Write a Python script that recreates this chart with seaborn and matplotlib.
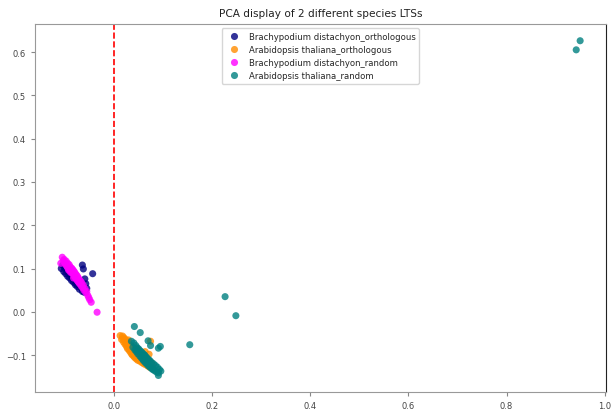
import pandas as pd
import matplotlib
matplotlib.use("Agg")
import matplotlib.pyplot as plt
import seaborn as sns

# --- PCA coordinates ---
bd_orth_x = [-0.108, -0.105, -0.103, -0.101, -0.099, -0.097, -0.095, -0.093, -0.091, -0.089,
             -0.087, -0.085, -0.083, -0.081, -0.079, -0.077, -0.075, -0.073, -0.071, -0.069,
             -0.067, -0.065, -0.063, -0.061, -0.059,
             -0.065, -0.063, -0.044, -0.060, -0.058, -0.056,
             -0.100, -0.094, -0.086, -0.078]
bd_orth_y = [0.100, 0.108, 0.093, 0.102, 0.088, 0.097, 0.082, 0.092, 0.078, 0.086,
             0.072, 0.081, 0.068, 0.075, 0.062, 0.070, 0.058, 0.065, 0.052, 0.060,
             0.055, 0.047, 0.056, 0.045, 0.050,
             0.108, 0.099, 0.088, 0.076, 0.065, 0.054,
             0.101, 0.092, 0.080, 0.065]

at_orth_x = [0.012, 0.015, 0.017, 0.019, 0.020, 0.022, 0.023, 0.025, 0.026, 0.027,
             0.028, 0.030, 0.031, 0.032, 0.033, 0.035, 0.036, 0.037, 0.038, 0.040,
             0.041, 0.042, 0.044, 0.045, 0.047, 0.048, 0.050, 0.052, 0.054, 0.056,
             0.058, 0.060, 0.062, 0.064, 0.066, 0.068, 0.070, 0.072, 0.074, 0.076,
             0.018, 0.024, 0.029, 0.034, 0.039, 0.046, 0.053, 0.063, 0.071, 0.078]
at_orth_y = [-0.055, -0.064, -0.056, -0.070, -0.060, -0.075, -0.064, -0.080, -0.068, -0.085,
             -0.072, -0.088, -0.077, -0.092, -0.080, -0.097, -0.083, -0.100, -0.087, -0.103,
             -0.090, -0.106, -0.093, -0.109, -0.095, -0.112, -0.098, -0.114, -0.101, -0.117,
             -0.103, -0.120, -0.106, -0.122, -0.110, -0.125, -0.112, -0.128, -0.068, -0.118,
             -0.062, -0.072, -0.065, -0.078, -0.095, -0.085, -0.108, -0.092, -0.098, -0.130]

bd_rand_x = [-0.106, -0.104, -0.102, -0.100, -0.098, -0.097, -0.095, -0.094, -0.092, -0.091,
             -0.090, -0.088, -0.087, -0.086, -0.085, -0.084, -0.083, -0.082, -0.081, -0.080,
             -0.079, -0.078, -0.077, -0.076, -0.075, -0.074, -0.073, -0.072, -0.071, -0.070,
             -0.068, -0.067, -0.066, -0.064, -0.063, -0.062, -0.060, -0.058, -0.056, -0.054,
             -0.052, -0.050, -0.047, -0.035,
             -0.101, -0.096, -0.089, -0.083, -0.093, -0.109]
bd_rand_y = [0.126, 0.118, 0.121, 0.110, 0.117, 0.106, 0.112, 0.100, 0.109, 0.097,
             0.104, 0.094, 0.101, 0.090, 0.098, 0.088, 0.095, 0.083, 0.092, 0.080,
             0.088, 0.077, 0.085, 0.073, 0.082, 0.070, 0.078, 0.067, 0.074, 0.064,
             0.070, 0.059, 0.066, 0.055, 0.061, 0.050, 0.054, 0.044, 0.047, 0.038,
             0.033, 0.028, 0.022, -0.001,
             0.114, 0.104, 0.091, 0.078, 0.096, 0.112]

at_rand_x = [0.035, 0.038, 0.040, 0.042, 0.044, 0.045, 0.047, 0.048, 0.050, 0.052,
             0.053, 0.055, 0.056, 0.058, 0.059, 0.060, 0.062, 0.063, 0.065, 0.066,
             0.067, 0.069, 0.070, 0.072, 0.073, 0.075, 0.076, 0.078, 0.080, 0.082,
             0.084, 0.086, 0.088, 0.090, 0.092, 0.095,
             0.041, 0.053, 0.069, 0.074, 0.094, 0.090, 0.154, 0.226, 0.248, 0.950, 0.942,
             0.046, 0.061, 0.079, 0.090]
at_rand_y = [-0.068, -0.082, -0.072, -0.088, -0.078, -0.092, -0.083, -0.097, -0.086, -0.102,
             -0.090, -0.106, -0.093, -0.110, -0.097, -0.113, -0.100, -0.117, -0.104, -0.120,
             -0.107, -0.124, -0.110, -0.127, -0.113, -0.130, -0.117, -0.133, -0.120, -0.136,
             -0.124, -0.139, -0.128, -0.141, -0.133, -0.137,
             -0.034, -0.048, -0.067, -0.078, -0.080, -0.084, -0.076, 0.035, -0.009, 0.626, 0.605,
             -0.088, -0.100, -0.132, -0.147]

labels = ["Brachypodium distachyon_orthologous", "Arabidopsis thaliana_orthologous",
          "Brachypodium distachyon_random", "Arabidopsis thaliana_random"]
colors = ["navy", "darkorange", "magenta", "teal"]

# --- build one long table ---
parts = []
for lab, xs, ys in zip(labels,
                       [bd_orth_x, at_orth_x, bd_rand_x, at_rand_x],
                       [bd_orth_y, at_orth_y, bd_rand_y, at_rand_y]):
    parts.append(pd.DataFrame({"pc1": xs, "pc2": ys, "group": lab}))
# draw order: orthologous first, random on top
df = pd.concat(parts, ignore_index=True)

sns.set_style("ticks")
plt.rcParams["font.family"] = ["DejaVu Sans"]
plt.rcParams["font.size"] = 6

fig, ax = plt.subplots(figsize=(6.11, 4.10), dpi=100)
fig.subplots_adjust(left=0.057, right=0.992, top=0.939, bottom=0.041)

sns.scatterplot(data=df, x="pc1", y="pc2", hue="group", hue_order=labels,
                palette=dict(zip(labels, colors)), alpha=0.8, s=26,
                linewidth=0, ax=ax)
ax.axvline(0, color="red", linestyle="--", linewidth=1.2)

ax.set_xlabel("")
ax.set_ylabel("")
ax.set_title("PCA display of 2 different species LTSs", fontsize=7.6, color="#222222")
ax.tick_params(labelsize=6, length=3, labelcolor="#444444", color="#888888")
for name, sp in ax.spines.items():
    sp.set_visible(True)
    sp.set_linewidth(0.8)
    sp.set_color("#222222" if name == "right" else "#999999")

handles, lbls = ax.get_legend_handles_labels()
ax.legend(handles, lbls, loc="upper center", fontsize=6.1, frameon=True)

fig.savefig("out.png", dpi=100)
